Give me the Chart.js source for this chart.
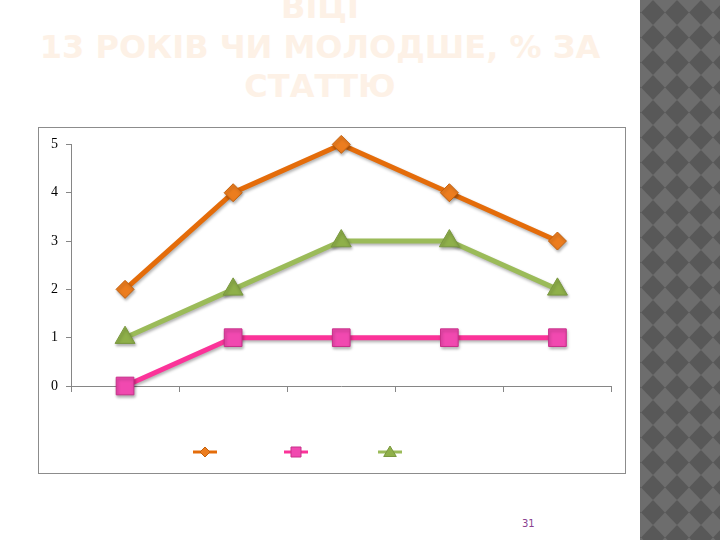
<!DOCTYPE html>
<html>
<head>
<meta charset="utf-8">
<script src="https://cdn.jsdelivr.net/npm/chart.js@4/dist/chart.umd.min.js"></script>
<style>
  html, body { margin: 0; padding: 0; background: #fff; }
  body { width: 720px; height: 540px; position: relative; overflow: hidden; }
  #strip {
    position: absolute; left: 640px; top: 0; width: 80px; height: 540px;
    background-color: #6d6d6d;
    background-image: url("data:image/svg+xml;utf8,<svg xmlns='http://www.w3.org/2000/svg' width='24' height='25'><polygon points='12,0 24,12.5 12,25 0,12.5' fill='%23585858'/></svg>");
    background-size: 24px 25px;
    background-position: 1px 0px;
  }
  .title {
    position: absolute; left: 0; width: 640px; text-align: center;
    font-family: "DejaVu Sans", sans-serif; font-weight: bold; font-size: 32px;
    color: #fdf1e6; line-height: 38px; white-space: nowrap;
  }
  #box {
    position: absolute; left: 38px; top: 127px; width: 586px; height: 345px;
    border: 1px solid #8c8c8c; background: #fff;
  }
  #chart { display: block; }
  #page {
    position: absolute; left: 522px; top: 518px;
    font-family: "DejaVu Sans", sans-serif; font-size: 10px; color: #8a3f8f;
  }
</style>
</head>
<body>
<div id="strip"></div>
<div class="title" style="top:-12px">ВІЦІ</div>
<div class="title" style="top:28px">13 РОКІВ ЧИ МОЛОДШЕ, % ЗА</div>
<div class="title" style="top:67px">СТАТТЮ</div>
<div id="box"><canvas id="chart" width="586" height="345"></canvas></div>
<div id="page">31</div>
<script>
var categories = ['1', '2', '3', '4', '5'];
var seriesNames = ['', '', ''];
var orangeValues = [2, 4, 5, 4, 3];
var pinkValues = [0, 1, 1, 1, 1];
var greenValues = [1, 2, 3, 3, 2];
var yTicks = [0, 1, 2, 3, 4, 5];

var axisColor = '#868686';

// small line + marker legend, like the old office charts (no text)
function drawMarker(ctx, style, x, y, r, fill, stroke) {
    ctx.save();
    ctx.fillStyle = fill;
    ctx.strokeStyle = stroke;
    ctx.lineWidth = 1;
    ctx.beginPath();
    if (style === 'rectRot') {
        ctx.moveTo(x, y - r); ctx.lineTo(x + r, y); ctx.lineTo(x, y + r); ctx.lineTo(x - r, y);
    } else if (style === 'rect') {
        ctx.rect(x - r, y - r, r * 2, r * 2);
    } else {
        ctx.moveTo(x, y - r); ctx.lineTo(x + r * 1.05, y + r * 0.75); ctx.lineTo(x - r * 1.05, y + r * 0.75);
    }
    ctx.closePath();
    ctx.fill();
    ctx.stroke();
    ctx.restore();
}

var legendPlugin = {
    id: 'lineLegend',
    afterDraw: function(chart) {
        var ctx = chart.ctx;
        var xs = [166, 257, 351];
        var y = 324;
        var sizes = [5, 5, 6];
        chart.data.datasets.forEach(function(ds, i) {
            ctx.save();
            ctx.strokeStyle = ds.borderColor;
            ctx.lineWidth = 3;
            ctx.beginPath();
            ctx.moveTo(xs[i] - 12, y);
            ctx.lineTo(xs[i] + 12, y);
            ctx.stroke();
            ctx.restore();
            drawMarker(ctx, ds.pointStyle, xs[i], y, sizes[i], ds.pointBackgroundColor, ds.pointBorderColor);
        });
    }
};

// soft drop shadow under the markers
var shadowPlugin = {
    id: 'markerShadow',
    beforeDatasetDraw: function(chart) {
        var c = chart.ctx;
        c.save();
        c.shadowColor = 'rgba(0,0,0,0.3)';
        c.shadowBlur = 3;
        c.shadowOffsetX = 1;
        c.shadowOffsetY = 2;
    },
    afterDatasetDraw: function(chart) {
        chart.ctx.restore();
    }
};

var ctx = document.getElementById('chart').getContext('2d');
var chart = new Chart(ctx, {
    type: 'line',
    data: {
        labels: categories,
        datasets: [{
            label: seriesNames[0],
            data: orangeValues,
            borderColor: '#e46c0a',
            borderWidth: 5,
            pointStyle: 'rectRot',
            pointRadius: 9,
            pointBackgroundColor: '#ec7d1f',
            pointBorderColor: '#c4600c',
            pointBorderWidth: 1,
            clip: false
        }, {
            label: seriesNames[1],
            data: pinkValues,
            borderColor: '#fb3399',
            borderWidth: 5,
            pointStyle: 'rect',
            pointRadius: 12.5,
            pointBackgroundColor: '#f149b0',
            pointBorderColor: '#c8308a',
            pointBorderWidth: 1,
            clip: false
        }, {
            label: seriesNames[2],
            data: greenValues,
            borderColor: '#9bbb59',
            borderWidth: 5,
            pointStyle: 'triangle',
            pointRadius: 11.5,
            pointBackgroundColor: '#8fb04a',
            pointBorderColor: '#7a9840',
            pointBorderWidth: 1,
            clip: false
        }]
    },
    options: {
        responsive: false,
        animation: false,
        devicePixelRatio: 1,
        layout: { padding: { left: 0, right: 12, top: 16, bottom: 77 } },
        plugins: {
            legend: { display: false },
            tooltip: { enabled: false }
        },
        scales: {
            x: {
                offset: true,
                afterFit: function(scale) { scale.height = 10; },
                grid: {
                    offset: true,
                    drawOnChartArea: false,
                    drawTicks: true,
                    tickLength: 6,
                    color: axisColor
                },
                border: { color: axisColor },
                ticks: { callback: function() { return ''; }, padding: 0 }
            },
            y: {
                min: yTicks[0],
                max: yTicks[yTicks.length - 1],
                afterFit: function(scale) { scale.width = 32; },
                afterBuildTicks: function(scale) {
                    scale.ticks = yTicks.map(function(v) { return { value: v }; });
                },
                grid: {
                    drawOnChartArea: false,
                    drawTicks: true,
                    tickLength: 5,
                    color: axisColor
                },
                border: { color: axisColor },
                ticks: {
                    color: '#000',
                    padding: 8,
                    font: { family: 'Liberation Serif', size: 14 }
                }
            }
        }
    },
    plugins: [shadowPlugin, legendPlugin]
});
</script>
</body>
</html>
